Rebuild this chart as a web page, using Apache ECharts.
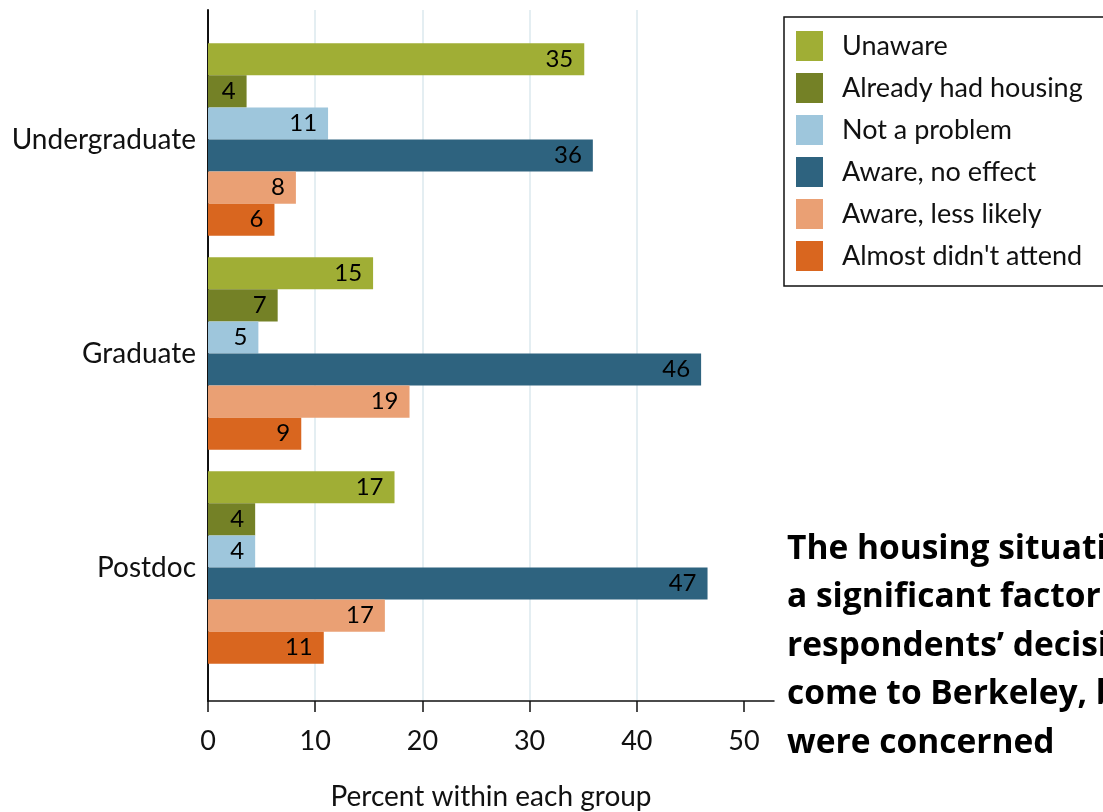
<!DOCTYPE html>
<html>
<head>
<meta charset="utf-8">
<script src="https://cdn.jsdelivr.net/npm/echarts@6/dist/echarts.min.js"></script>
<style>
html,body{margin:0;padding:0;background:#fff;}
#chart{width:1103px;height:812px;}
</style>
</head>
<body>
<div id="chart"></div>
<script>
const categories = ['Undergraduate', 'Graduate', 'Postdoc'];
const seriesNames = ['Unaware', 'Already had housing', 'Not a problem', 'Aware, no effect', 'Aware, less likely', "Almost didn't attend"];
const unaware = [35.1, 15.4, 17.4];
const alreadyHadHousing = [3.6, 6.5, 4.4];
const notAProblem = [11.2, 4.7, 4.4];
const awareNoEffect = [35.9, 46.0, 46.6];
const awareLessLikely = [8.2, 18.8, 16.5];
const almostDidntAttend = [6.2, 8.7, 10.8];
const xTicks = [0, 10, 20, 30, 40, 50];
const colors = ['#a0ae35', '#748126', '#9ec6dc', '#2e637f', '#eaa074', '#d9661f'];
const annotationLines = ['The housing situation was', 'a significant factor in', 'respondents\u2019 decision to', 'come to Berkeley, but', 'were concerned'];

const seriesData = [unaware, alreadyHadHousing, notAProblem, awareNoEffect, awareLessLikely, almostDidntAttend];
const FONT = 'Lato';

const chart = echarts.init(document.getElementById('chart'));
const option = {
  animation: false,
  backgroundColor: '#fff',
  textStyle: { fontFamily: FONT },
  grid: [
    { left: 208, right: 329, top: 32.5, bottom: 137.5, outerBoundsMode: 'none', containLabel: false },
    { left: 208, right: 329, top: 10, bottom: 111, outerBoundsMode: 'none', containLabel: false }
  ],
  xAxis: [
    { gridIndex: 0, type: 'value', min: 0, max: 52.8, show: false },
    {
      gridIndex: 1, type: 'value', min: 0, max: 52.8,
      axisLine: { show: true, lineStyle: { color: '#111', width: 1.5 } },
      axisTick: { show: true, customValues: xTicks, length: 11, lineStyle: { color: '#111', width: 1.5 } },
      axisLabel: { customValues: xTicks, fontSize: 27, color: '#111', margin: 27, fontFamily: FONT },
      splitLine: { show: true, showMaxLine: false, lineStyle: { color: '#e4eef2', width: 2 } },
      name: 'Percent within each group', nameLocation: 'middle', nameGap: 82,
      nameTextStyle: { fontSize: 28, color: '#111', fontFamily: FONT }
    }
  ],
  yAxis: [
    {
      gridIndex: 0, type: 'category', inverse: true, data: categories,
      axisLine: { show: false }, axisTick: { show: false },
      axisLabel: { fontSize: 28, color: '#111', margin: 12, fontFamily: FONT }
    },
    {
      gridIndex: 1, type: 'value', min: 0, max: 1,
      axisLine: { show: true, lineStyle: { color: '#111', width: 2 } },
      axisTick: { show: false }, axisLabel: { show: false }, splitLine: { show: false }
    }
  ],
  legend: {
    orient: 'vertical', left: 784, top: 17,
    itemWidth: 27, itemHeight: 30, itemGap: 12,
    padding: [14, 60, 15, 12],
    borderColor: '#111', borderWidth: 1.5, backgroundColor: '#fff',
    icon: 'rect',
    textStyle: { fontSize: 27, color: '#111', fontFamily: FONT, padding: [0, 0, 3, 14] },
    data: seriesNames
  },
  series: seriesNames.map((name, i) => ({
    name: name, type: 'bar', xAxisIndex: 0, yAxisIndex: 0,
    data: seriesData[i],
    barGap: '0%', barCategoryGap: '10%',
    itemStyle: { color: colors[i] },
    label: {
      show: true, position: 'insideRight', distance: 11,
      fontSize: 24, color: '#000', fontFamily: FONT,
      formatter: p => String(Math.round(p.value))
    }
  })),
  graphic: [
    {
      type: 'text', left: 787, top: 525,
      style: {
        text: annotationLines.join('\n'),
        fontFamily: 'Open Sans', fontWeight: 'bold', fontSize: 33.5,
        lineHeight: 48.5, fill: '#000'
      }
    }
  ]
};
chart.setOption(option);
</script>
</body>
</html>
